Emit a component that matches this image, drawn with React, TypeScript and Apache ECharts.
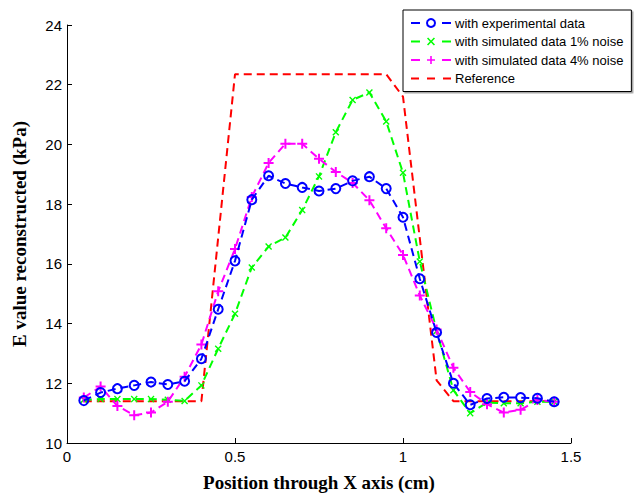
import React, { useEffect, useRef } from "react";
import * as echarts from "echarts";

const xPositions = [
  0.05, 0.1, 0.15, 0.2, 0.25, 0.3, 0.35, 0.4, 0.45, 0.5, 0.55, 0.6, 0.65, 0.7,
  0.75, 0.8, 0.85, 0.9, 0.95, 1.0, 1.05, 1.1, 1.15, 1.2, 1.25, 1.3, 1.35, 1.4, 1.45,
];

const experimental = [
  11.42, 11.69, 11.82, 11.93, 12.04, 11.96, 12.07, 12.82, 14.48, 16.1, 18.15, 18.95,
  18.69, 18.56, 18.44, 18.52, 18.78, 18.92, 18.52, 17.56, 15.5, 13.7, 12.0, 11.28,
  11.49, 11.53, 11.52, 11.5, 11.38,
];

const noise1 = [
  11.45, 11.47, 11.47, 11.47, 11.47, 11.45, 11.41, 11.93, 13.16, 14.33, 15.88, 16.58,
  16.88, 17.8, 18.93, 20.41, 21.49, 21.74, 20.77, 19.05, 16.08, 13.75, 11.77, 11.0,
  11.35, 11.33, 11.33, 11.38, 11.38,
];

const noise4 = [
  11.52, 11.89, 11.24, 10.93, 11.02, 11.38, 12.22, 13.3, 15.08, 16.5, 18.24, 19.38,
  20.02, 20.02, 19.52, 19.08, 18.71, 18.13, 17.19, 16.3, 14.94, 13.8, 12.52, 11.71,
  11.3, 11.02, 11.11, 11.44, 11.38,
];

const reference = [
  11.4, 11.4, 11.4, 11.4, 11.4, 11.4, 11.4, 11.4, 16.88, 22.35, 22.35, 22.35, 22.35,
  22.35, 22.35, 22.35, 22.35, 22.35, 22.35, 21.6, 16.85, 12.1, 11.4, 11.4, 11.4, 11.4,
  11.4, 11.4, 11.4,
];

const seriesNames = [
  "with experimental data",
  "with simulated data 1% noise",
  "with simulated data 4% noise",
  "Reference",
];

const PLUS = "path://M4,0H6V4H10V6H6V10H4V6H0V4H4Z";
const CROSS =
  "path://M0,1.4L1.4,0L5,3.6L8.6,0L10,1.4L6.4,5L10,8.6L8.6,10L5,6.4L1.4,10L0,8.6L3.6,5Z";

const pair = (vals: number[]) => xPositions.map((x, i) => [x, vals[i]]);

export default function App() {
  const ref = useRef<HTMLDivElement>(null);
  useEffect(() => {
    if (!ref.current) return;
    const chart = echarts.init(ref.current, undefined, { renderer: "svg" });
    const dash = [8, 5];
    const markerLegendLine = { type: [9, 22], width: 2 };
    chart.setOption({
      animation: false,
      backgroundColor: "#fff",
      grid: {
        left: 67,
        right: 67,
        top: 25,
        bottom: 51,
        show: false,
        containLabel: false,
        outerBoundsMode: "none",
      },
      legend: {
        left: 403,
        top: 10,
        orient: "vertical",
        backgroundColor: "#fff",
        borderColor: "#000",
        borderWidth: 1,
        borderRadius: 0,
        padding: [6, 8, 6, 7],
        itemWidth: 40,
        itemHeight: 10,
        itemGap: 4.5,
        shadowColor: "rgba(0,0,0,0.35)",
        shadowOffsetX: 1.5,
        shadowOffsetY: 1.5,
        shadowBlur: 1,
        textStyle: {
          fontFamily: "Liberation Sans, Arial, sans-serif",
          fontSize: 13,
          lineHeight: 14,
          color: "#000",
          padding: [0, 0, 0, -1],
        },
        data: [
          { name: seriesNames[0], lineStyle: markerLegendLine },
          { name: seriesNames[1], lineStyle: markerLegendLine },
          { name: seriesNames[2], lineStyle: markerLegendLine },
          {
            name: seriesNames[3],
            lineStyle: { type: [8, 8], width: 2 },
            itemStyle: { opacity: 0 },
          },
        ],
      },
      xAxis: {
        type: "value",
        min: 0,
        max: 1.5,
        interval: 0.5,
        name: "Position through X axis (cm)",
        nameLocation: "middle",
        nameGap: 30,
        nameTextStyle: {
          fontFamily: "Liberation Serif, Times New Roman, serif",
          fontWeight: "bold",
          fontSize: 19,
          color: "#000",
        },
        axisLine: { lineStyle: { color: "#000", width: 1 } },
        axisTick: { inside: true, length: 5, lineStyle: { color: "#000" } },
        axisLabel: {
          margin: 6,
          fontFamily: "Liberation Sans, Arial, sans-serif",
          fontSize: 15,
          color: "#000",
        },
        splitLine: { show: false },
      },
      yAxis: {
        type: "value",
        min: 10,
        max: 24,
        interval: 2,
        name: "E value reconstructed (kPa)",
        nameLocation: "middle",
        nameGap: 38,
        nameTextStyle: {
          fontFamily: "Liberation Serif, Times New Roman, serif",
          fontWeight: "bold",
          fontSize: 19,
          color: "#000",
        },
        axisLine: { show: true, lineStyle: { color: "#000", width: 1 } },
        axisTick: { show: true, inside: true, length: 5, lineStyle: { color: "#000" } },
        axisLabel: {
          margin: 5,
          fontFamily: "Liberation Sans, Arial, sans-serif",
          fontSize: 15,
          color: "#000",
        },
        splitLine: { show: false },
      },
      series: [
        {
          name: seriesNames[3],
          type: "line",
          data: pair(reference),
          symbol: "none",
          z: 1,
          lineStyle: { color: "#ff0000", width: 2, type: dash },
          itemStyle: { color: "#ff0000" },
        },
        {
          name: seriesNames[0],
          type: "line",
          data: pair(experimental),
          symbol: "circle",
          symbolSize: 9,
          z: 4,
          lineStyle: { color: "#0000ff", width: 2, type: dash },
          itemStyle: { color: "rgba(0,0,0,0)", borderColor: "#0000ff", borderWidth: 2 },
        },
        {
          name: seriesNames[1],
          type: "line",
          data: pair(noise1),
          symbol: CROSS,
          symbolSize: 7,
          z: 2,
          lineStyle: { color: "#00ff00", width: 2, type: dash },
          itemStyle: { color: "#00ff00" },
        },
        {
          name: seriesNames[2],
          type: "line",
          data: pair(noise4),
          symbol: PLUS,
          symbolSize: 10,
          z: 3,
          lineStyle: { color: "#ff00ff", width: 2, type: dash },
          itemStyle: { color: "#ff00ff" },
        },
      ],
    });
    return () => chart.dispose();
  }, []);
  return <div ref={ref} style={{ width: 638, height: 494, position: "absolute", left: 0, top: 0 }} />;
}
